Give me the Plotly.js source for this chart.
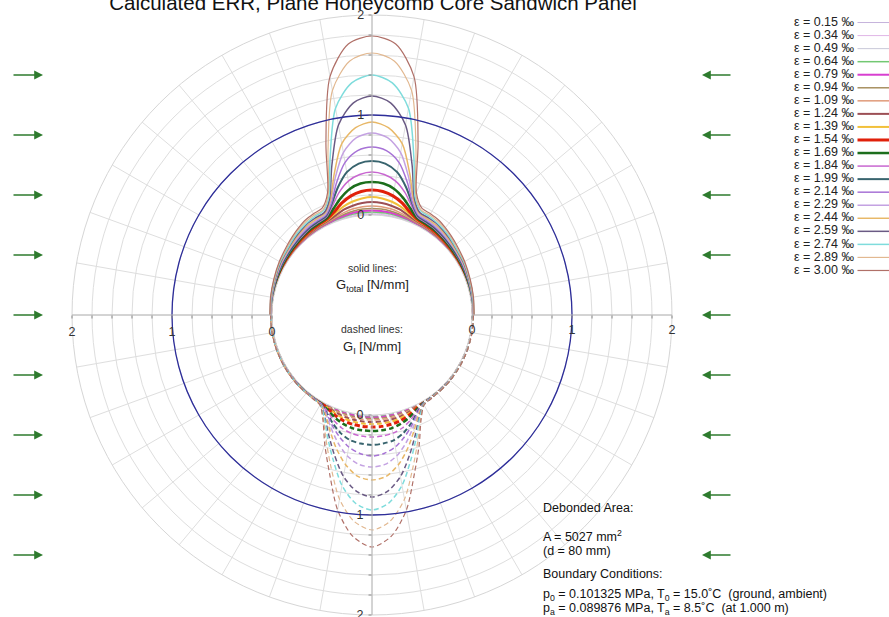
<!DOCTYPE html>
<html><head><meta charset="utf-8">
<script src="https://cdn.plot.ly/plotly-3.0.1.min.js"></script>
<style>html,body{margin:0;padding:0;background:#fff}#chart{width:889px;height:617px}</style>
</head><body><div id="chart"></div>
<script>
// strain levels (legend order)
const strains = ['0.15','0.34','0.49','0.64','0.79','0.94','1.09','1.24','1.39','1.54','1.69','1.84','1.99','2.14','2.29','2.44','2.59','2.74','2.89','3.00'];
const colors = ['#c6b3dc','#e0b6e6','#c8c8d8','#72c872','#d83fd0','#a89060','#e09a7a','#9c4f55','#f2c03a','#e0200a','#1c6e1c','#c866d0','#38646e','#a773d6','#c4a2e2','#e8b868','#6a5a84','#7fdcdc','#e2b890','#b07068'];
const widths = [1,1,1,1.5,2,1.5,1.5,2,2,3,2.5,1.5,2,1.5,1.5,1.5,1.5,1.5,1.2,1.2];

// angular offset (deg) from the symmetry axis (90° for G_total, 270° for G_I)
const phi = [0,5,10,15,20,25,30,35,40,45,50,60,70,80,90];

// G_total [N/mm] (solid, upper half)
const gT015 = [0.004,0.004,0.004,0.003,0.003,0.002,0.002,0.002,0.002,0.001,0.001,0.001,0.001,0.001,0.001];
const gT034 = [0.01,0.01,0.009,0.008,0.006,0.005,0.004,0.004,0.003,0.003,0.003,0.002,0.002,0.002,0.001];
const gT049 = [0.02,0.019,0.018,0.015,0.012,0.009,0.008,0.007,0.006,0.006,0.005,0.004,0.003,0.003,0.002];
const gT064 = [0.03,0.029,0.027,0.022,0.017,0.013,0.011,0.01,0.009,0.008,0.007,0.006,0.005,0.004,0.003];
const gT079 = [0.045,0.044,0.04,0.033,0.025,0.018,0.016,0.014,0.012,0.011,0.009,0.008,0.006,0.005,0.004];
const gT094 = [0.065,0.063,0.057,0.046,0.034,0.024,0.02,0.018,0.016,0.014,0.012,0.01,0.007,0.006,0.005];
const gT109 = [0.09,0.087,0.078,0.063,0.045,0.03,0.026,0.023,0.02,0.018,0.015,0.012,0.009,0.007,0.006];
const gT124 = [0.13,0.125,0.11,0.09,0.06,0.04,0.034,0.03,0.026,0.022,0.019,0.015,0.011,0.008,0.007];
const gT139 = [0.18,0.17,0.15,0.12,0.08,0.05,0.042,0.037,0.032,0.028,0.023,0.018,0.013,0.01,0.008];
const gT154 = [0.25,0.24,0.21,0.16,0.10,0.06,0.05,0.045,0.04,0.034,0.028,0.022,0.015,0.011,0.009];
const gT169 = [0.33,0.32,0.28,0.21,0.13,0.07,0.06,0.055,0.048,0.04,0.034,0.026,0.018,0.013,0.01];
const gT184 = [0.43,0.41,0.36,0.27,0.16,0.08,0.07,0.065,0.055,0.048,0.04,0.03,0.021,0.015,0.012];
const gT199 = [0.54,0.52,0.45,0.32,0.18,0.09,0.08,0.075,0.065,0.055,0.045,0.035,0.024,0.017,0.013];
const gT214 = [0.68,0.65,0.55,0.37,0.19,0.10,0.09,0.085,0.075,0.065,0.055,0.04,0.027,0.019,0.014];
const gT229 = [0.82,0.78,0.65,0.42,0.21,0.11,0.10,0.095,0.085,0.07,0.06,0.045,0.03,0.02,0.015];
const gT244 = [0.93,0.88,0.74,0.46,0.22,0.12,0.11,0.105,0.095,0.08,0.065,0.05,0.032,0.022,0.016];
const gT259 = [1.19,1.13,0.93,0.55,0.24,0.13,0.125,0.12,0.105,0.09,0.075,0.055,0.035,0.024,0.017];
const gT274 = [1.40,1.33,1.10,0.62,0.26,0.15,0.14,0.13,0.115,0.10,0.08,0.06,0.038,0.026,0.018];
const gT289 = [1.62,1.55,1.28,0.70,0.28,0.16,0.155,0.145,0.13,0.11,0.09,0.065,0.04,0.028,0.02];
const gT300 = [1.79,1.72,1.42,0.78,0.30,0.18,0.17,0.16,0.14,0.12,0.10,0.07,0.045,0.03,0.02];

// G_I [N/mm] (dashed, lower half)
const gI015 = [0.002,0.002,0.002,0.002,0.002,0.001,0.001,0.001,0.001,0.001,0.001,0.001,0.001,0.001,0.001];
const gI034 = [0.006,0.006,0.006,0.005,0.004,0.003,0.003,0.003,0.002,0.002,0.002,0.002,0.002,0.002,0.002];
const gI049 = [0.011,0.011,0.01,0.009,0.007,0.005,0.004,0.004,0.003,0.003,0.003,0.003,0.003,0.002,0.002];
const gI064 = [0.017,0.017,0.015,0.013,0.01,0.007,0.005,0.005,0.004,0.004,0.004,0.004,0.003,0.003,0.003];
const gI079 = [0.025,0.024,0.022,0.019,0.014,0.009,0.006,0.006,0.005,0.005,0.005,0.004,0.004,0.004,0.004];
const gI094 = [0.035,0.034,0.032,0.027,0.02,0.012,0.008,0.007,0.006,0.006,0.006,0.005,0.005,0.004,0.004];
const gI109 = [0.05,0.049,0.046,0.04,0.03,0.018,0.01,0.009,0.008,0.007,0.007,0.006,0.005,0.005,0.005];
const gI124 = [0.07,0.069,0.064,0.055,0.041,0.024,0.012,0.01,0.009,0.008,0.008,0.007,0.006,0.006,0.005];
const gI139 = [0.09,0.089,0.083,0.072,0.053,0.03,0.014,0.012,0.01,0.009,0.009,0.008,0.007,0.006,0.006];
const gI154 = [0.12,0.118,0.11,0.095,0.07,0.038,0.016,0.013,0.011,0.01,0.01,0.009,0.007,0.007,0.006];
const gI169 = [0.16,0.157,0.148,0.125,0.09,0.048,0.018,0.014,0.012,0.011,0.011,0.009,0.008,0.007,0.007];
const gI184 = [0.22,0.215,0.20,0.17,0.12,0.06,0.02,0.015,0.013,0.012,0.012,0.01,0.008,0.008,0.007];
const gI199 = [0.30,0.29,0.27,0.22,0.15,0.075,0.022,0.016,0.014,0.013,0.013,0.011,0.009,0.008,0.008];
const gI214 = [0.41,0.39,0.34,0.26,0.17,0.08,0.025,0.017,0.015,0.014,0.014,0.012,0.01,0.009,0.009];
const gI229 = [0.52,0.50,0.43,0.32,0.20,0.09,0.028,0.018,0.016,0.015,0.015,0.013,0.011,0.01,0.01];
const gI244 = [0.65,0.62,0.52,0.38,0.23,0.10,0.03,0.02,0.017,0.016,0.016,0.014,0.012,0.011,0.011];
const gI259 = [0.82,0.77,0.64,0.45,0.27,0.12,0.033,0.021,0.018,0.017,0.017,0.015,0.013,0.012,0.012];
const gI274 = [0.95,0.89,0.73,0.50,0.30,0.13,0.035,0.022,0.019,0.018,0.018,0.016,0.014,0.013,0.013];
const gI289 = [1.15,1.07,0.87,0.58,0.34,0.15,0.04,0.024,0.02,0.02,0.019,0.017,0.015,0.014,0.014];
const gI300 = [1.32,1.22,0.98,0.64,0.38,0.16,0.04,0.025,0.02,0.02,0.02,0.018,0.016,0.015,0.015];

// critical ERR reference circle
const gCrit = 1.0;
const critTheta = [0,15,30,45,60,75,90,105,120,135,150,165,180,195,210,225,240,255,270,285,300,315,330,345,360];

const radialTicks = [0,0.2,0.4,0.6,0.8,1.0,1.2,1.4,1.6,1.8,2.0];
const radialTickText = ['0','','','','','1','','','','','2'];

const gTotal = [gT015,gT034,gT049,gT064,gT079,gT094,gT109,gT124,gT139,gT154,gT169,gT184,gT199,gT214,gT229,gT244,gT259,gT274,gT289,gT300];
const gI = [gI015,gI034,gI049,gI064,gI079,gI094,gI109,gI124,gI139,gI154,gI169,gI184,gI199,gI214,gI229,gI244,gI259,gI274,gI289,gI300];

function mirror(vals, center){
  const th = [], r = [];
  for(let i = phi.length-1; i >= 0; i--){ th.push(center + phi[i]); r.push(vals[i]); }
  for(let i = 1; i < phi.length; i++){ th.push(center - phi[i]); r.push(vals[i]); }
  return {th, r};
}

const FONT = 'Liberation Sans, Arial, Helvetica, sans-serif';
const traces = [];
for(let k = 0; k < strains.length; k++){
  const s = mirror(gTotal[k], 90);
  traces.push({type:'scatterpolar', subplot:'polar', r:s.r, theta:s.th, mode:'lines',
    line:{color:colors[k], width:widths[k], shape:'spline', smoothing:0.8}, showlegend:false, hoverinfo:'skip'});
}
for(let k = 0; k < strains.length; k++){
  const s = mirror(gI[k], 270);
  traces.push({type:'scatterpolar', subplot:'polar', r:s.r, theta:s.th, mode:'lines',
    line:{color:colors[k], width:widths[k], dash:'5px,3px', shape:'spline', smoothing:0.8}, showlegend:false, hoverinfo:'skip'});
}
traces.push({type:'scatterpolar', subplot:'polar', r:critTheta.map(()=>gCrit), theta:critTheta, mode:'lines',
  line:{color:'#2e2e9a', width:1.3, shape:'spline'}, showlegend:false, hoverinfo:'skip'});
['polar2','polar3','polar4'].forEach(sp => traces.push({type:'scatterpolar', subplot:sp, r:[0], theta:[0], mode:'markers', marker:{size:1, opacity:0}, showlegend:false, hoverinfo:'skip'}));

// custom legend (text left of line sample)
for(let k = 0; k < strains.length; k++){
  traces.push({type:'scatter', xaxis:'x', yaxis:'y', x:[0.1,1], y:[k,k], mode:'lines',
    line:{color:colors[k], width:widths[k]}, showlegend:false, hoverinfo:'skip'});
}
traces.push({type:'scatter', xaxis:'x', yaxis:'y', x:strains.map(()=>0), y:strains.map((s,i)=>i),
  text:strains.map(s=>'ε = '+s+' ‰'), mode:'text', textposition:'middle left', cliponaxis:false,
  textfont:{family:FONT, size:12.5, color:'#222'}, showlegend:false, hoverinfo:'skip'});

const dom = {x:[72/889, 672/889], y:[2/617, 602/617]};
const baseRadial = {range:[0,2], tickvals:radialTicks, ticktext:radialTickText, showline:true, linecolor:'#b8b8b8', linewidth:1,
  ticks:'outside', ticklen:3, tickcolor:'#888', tickangle:0, tickfont:{family:FONT, size:12.5, color:'#333'}};
function extraPolar(angle, side, tickangle){
  return {domain:dom, hole:1/3, bgcolor:'rgba(0,0,0,0)',
    radialaxis:Object.assign({}, baseRadial, {angle:angle, side:side, showgrid:false, tickangle:tickangle}),
    angularaxis:{visible:false}};
}

const annotations = [
  {text:'solid lines:', x:372/889, y:1-268/617, font:{size:10.5, color:'#333'}},
  {text:'G<sub>total</sub> [N/mm]', x:372/889, y:1-286/617, font:{size:13, color:'#222'}},
  {text:'dashed lines:', x:372/889, y:1-329/617, font:{size:10.5, color:'#333'}},
  {text:'G<sub>I</sub> [N/mm]', x:372/889, y:1-347/617, font:{size:13, color:'#222'}},
  {text:'Debonded Area:', x:541/889, y:1-508/617, xanchor:'left', font:{size:12.5, color:'#111'}},
  {text:'A = 5027 mm<sup>2</sup>', x:541/889, y:1-536/617, xanchor:'left', font:{size:12.5, color:'#111'}},
  {text:'(d = 80 mm)', x:541/889, y:1-551/617, xanchor:'left', font:{size:12.5, color:'#111'}},
  {text:'Boundary Conditions:', x:541/889, y:1-574/617, xanchor:'left', font:{size:12.5, color:'#111'}},
  {text:'p<sub>0</sub> = 0.101325 MPa, T<sub>0</sub> = 15.0˚C  (ground, ambient)', x:541/889, y:1-595/617, xanchor:'left', font:{size:12.5, color:'#111'}},
  {text:'p<sub>a</sub> = 0.089876 MPa, T<sub>a</sub> = 8.5˚C  (at 1.000 m)', x:541/889, y:1-609/617, xanchor:'left', font:{size:12.5, color:'#111'}}
].map(a => Object.assign({xref:'paper', yref:'paper', showarrow:false, yanchor:'middle', xanchor:a.xanchor||'center'}, a));

// load arrows on both sides
const arrowRows = [75,135,195,255,315,375,435,495,555];
arrowRows.forEach(py => {
  annotations.push({xref:'paper', yref:'paper', x:43/889, y:1-py/617, ax:-31, ay:0, text:'', showarrow:true,
    arrowhead:2, arrowsize:1.1, arrowwidth:1.6, arrowcolor:'#2e7b2e'});
  annotations.push({xref:'paper', yref:'paper', x:702/889, y:1-py/617, ax:30, ay:0, text:'', showarrow:true,
    arrowhead:2, arrowsize:1.1, arrowwidth:1.6, arrowcolor:'#2e7b2e'});
});

const layout = {
  width:889, height:617, margin:{l:0, r:0, t:0, b:0}, paper_bgcolor:'#fff', plot_bgcolor:'rgba(0,0,0,0)',
  font:{family:FONT, color:'#222'},
  title:{text:'Calculated ERR, Plane Honeycomb Core Sandwich Panel', x:373/889, xanchor:'center', xref:'container',
    y:1-3/617, yanchor:'middle', yref:'container', font:{family:FONT, size:20.5, color:'#111'}},
  polar:{domain:dom, hole:1/3, bgcolor:'#fff',
    radialaxis:Object.assign({}, baseRadial, {angle:0, side:'clockwise', showgrid:true, gridcolor:'#dedede', gridwidth:1}),
    angularaxis:{rotation:0, direction:'counterclockwise', dtick:10, showticklabels:false, ticks:'', showgrid:true,
      gridcolor:'#dedede', gridwidth:1, showline:true, linecolor:'#d6d6d6', linewidth:1}},
  polar2:extraPolar(180,'counterclockwise',180),
  polar3:extraPolar(90,'counterclockwise',90),
  polar4:extraPolar(270,'clockwise',-90),
  xaxis:{domain:[854/889, 1], range:[0,1], visible:false, fixedrange:true},
  yaxis:{domain:[1-277/617, 1-16/617], range:[19.5,-0.5], visible:false, fixedrange:true},
  annotations:annotations,
  showlegend:false
};

Plotly.newPlot('chart', traces, layout, {staticPlot:true});
</script></body></html>
